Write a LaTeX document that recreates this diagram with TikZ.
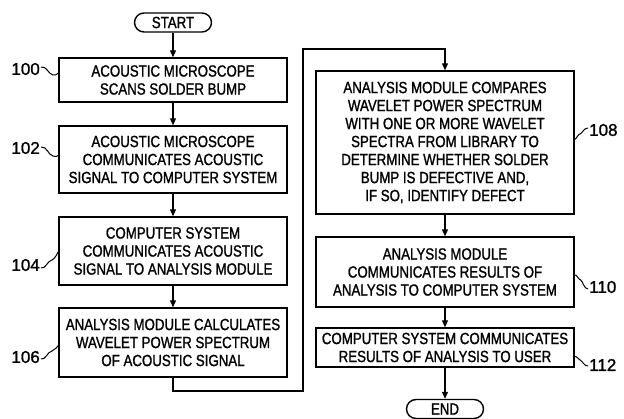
\documentclass[tikz,border=0pt]{standalone}
\usepackage{fontspec}
\setmainfont[FakeStretch=0.82,FakeBold=1.2]{Liberation Sans}
\newfontfamily\numfont[FakeBold=1.2]{Liberation Sans}
\usetikzlibrary{arrows.meta,calc}
\begin{document}
\begin{tikzpicture}[x=1pt,y=-1pt,
  txt/.style={font=\fontsize{16.2}{18}\selectfont},
  box/.style={txt, draw, line width=1.4pt, align=center, inner sep=0pt},
  leftbox/.style={box, minimum width=228pt},
  rightbox/.style={box, minimum width=258pt},
  term/.style={txt, draw, line width=1.4pt, rounded corners=9.5pt,
    minimum width=77pt, minimum height=19pt, inner sep=0pt},
  flow/.style={line width=1.2pt, -{Triangle[length=7pt,width=6pt]}},
  refnum/.style={font=\numfont\fontsize{17}{20}\selectfont, inner sep=0pt},
  squig/.style={line width=1pt}
]
\useasboundingbox (0,0) rectangle (624,419);

% left column
\node[term] (start) at (173,22.5) {START};
\node[leftbox, minimum height=44pt] (s100) at (173,80)
  {ACOUSTIC MICROSCOPE\\SCANS SOLDER BUMP};
\node[leftbox, minimum height=67pt] (s102) at (173,159.5)
  {ACOUSTIC MICROSCOPE\\COMMUNICATES ACOUSTIC\\SIGNAL TO COMPUTER SYSTEM};
\node[leftbox, minimum height=68pt] (s104) at (173,251)
  {COMPUTER SYSTEM\\COMMUNICATES ACOUSTIC\\SIGNAL TO ANALYSIS MODULE};
\node[leftbox, minimum height=69pt] (s106) at (173,342.5)
  {ANALYSIS MODULE CALCULATES\\WAVELET POWER SPECTRUM\\OF ACOUSTIC SIGNAL};

% right column
\node[rightbox, minimum height=143pt] (s108) at (445,142.5)
  {ANALYSIS MODULE COMPARES\\WAVELET POWER SPECTRUM\\WITH ONE OR MORE WAVELET\\SPECTRA FROM LIBRARY TO\\DETERMINE WHETHER SOLDER\\BUMP IS DEFECTIVE AND,\\IF SO, IDENTIFY DEFECT};
\node[rightbox, minimum height=70pt] (s110) at (445,272)
  {ANALYSIS MODULE\\COMMUNICATES RESULTS OF\\ANALYSIS TO COMPUTER SYSTEM};
\node[rightbox, minimum height=39pt] (s112) at (445,347.5)
  {COMPUTER SYSTEM COMMUNICATES\\RESULTS OF ANALYSIS TO USER};
\node[term] (end) at (445,409) {END};

% flow arrows
\draw[flow] (start) -- (s100);
\draw[flow] (s100) -- (s102);
\draw[flow] (s102) -- (s104);
\draw[flow] (s104) -- (s106);
\coordinate (c1) at (303,391);
\coordinate (c2) at (303,49);
\draw[flow] (s106.south) |- (c1) -- (c2) -| (s108.north);
\draw[flow] (s108) -- (s110);
\draw[flow] (s110) -- (s112);
\draw[flow] (s112) -- (end);

% reference numerals with leader squiggles
\node[refnum, anchor=east] (r100) at (40,69) {100};
\node[refnum, anchor=east] (r102) at (40,148) {102};
\node[refnum, anchor=east] (r104) at (40,265) {104};
\node[refnum, anchor=east] (r106) at (40,357) {106};
\node[refnum, anchor=west] (r108) at (589,130) {108};
\node[refnum, anchor=west] (r110) at (589,287) {110};
\node[refnum, anchor=west] (r112) at (589,365) {112};

\draw[squig] ($(r100.east)+(1,-2)$) .. controls +(6,-1) and +(-5,-1) .. ++(12,8)
  .. controls +(2,1) and +(-1,1) .. ($(s100.west)+(0,-7)$);
\draw[squig] ($(r102.east)+(1,-1)$) .. controls +(6,-1) and +(-5,-1) .. ++(12,9)
  .. controls +(2,1) and +(-1,1) .. ($(s102.west)+(0,-4)$);
\draw[squig] ($(r104.east)+(1,3)$) .. controls +(5,1) and +(-5,1) .. ++(11,-8)
  .. controls +(3,-1) and +(-1,1) .. ($(s104.west)+(0,1)$);
\draw[squig] ($(r106.east)+(1,2)$) .. controls +(5,1) and +(-5,1) .. ++(11,-8)
  .. controls +(3,-1) and +(-1,1) .. ($(s106.west)+(0,3)$);
\draw[squig] ($(s108.east)+(0,-3)$) .. controls +(2,-1) and +(-3,1) .. ++(6,-6)
  .. controls +(2,-1) and +(-4,0) .. ($(r108.west)+(-1,-2)$);
\draw[squig] ($(s110.east)+(0,3)$) .. controls +(2,-1) and +(-3,-1) .. ++(6,5)
  .. controls +(2,1) and +(-4,0) .. ($(r110.west)+(-1,2)$);
\draw[squig] ($(s112.east)+(0,9)$) .. controls +(2,-1) and +(-3,-1) .. ++(6,4)
  .. controls +(2,1) and +(-4,0) .. ($(r112.west)+(-1,1)$);
\end{tikzpicture}
\end{document}
